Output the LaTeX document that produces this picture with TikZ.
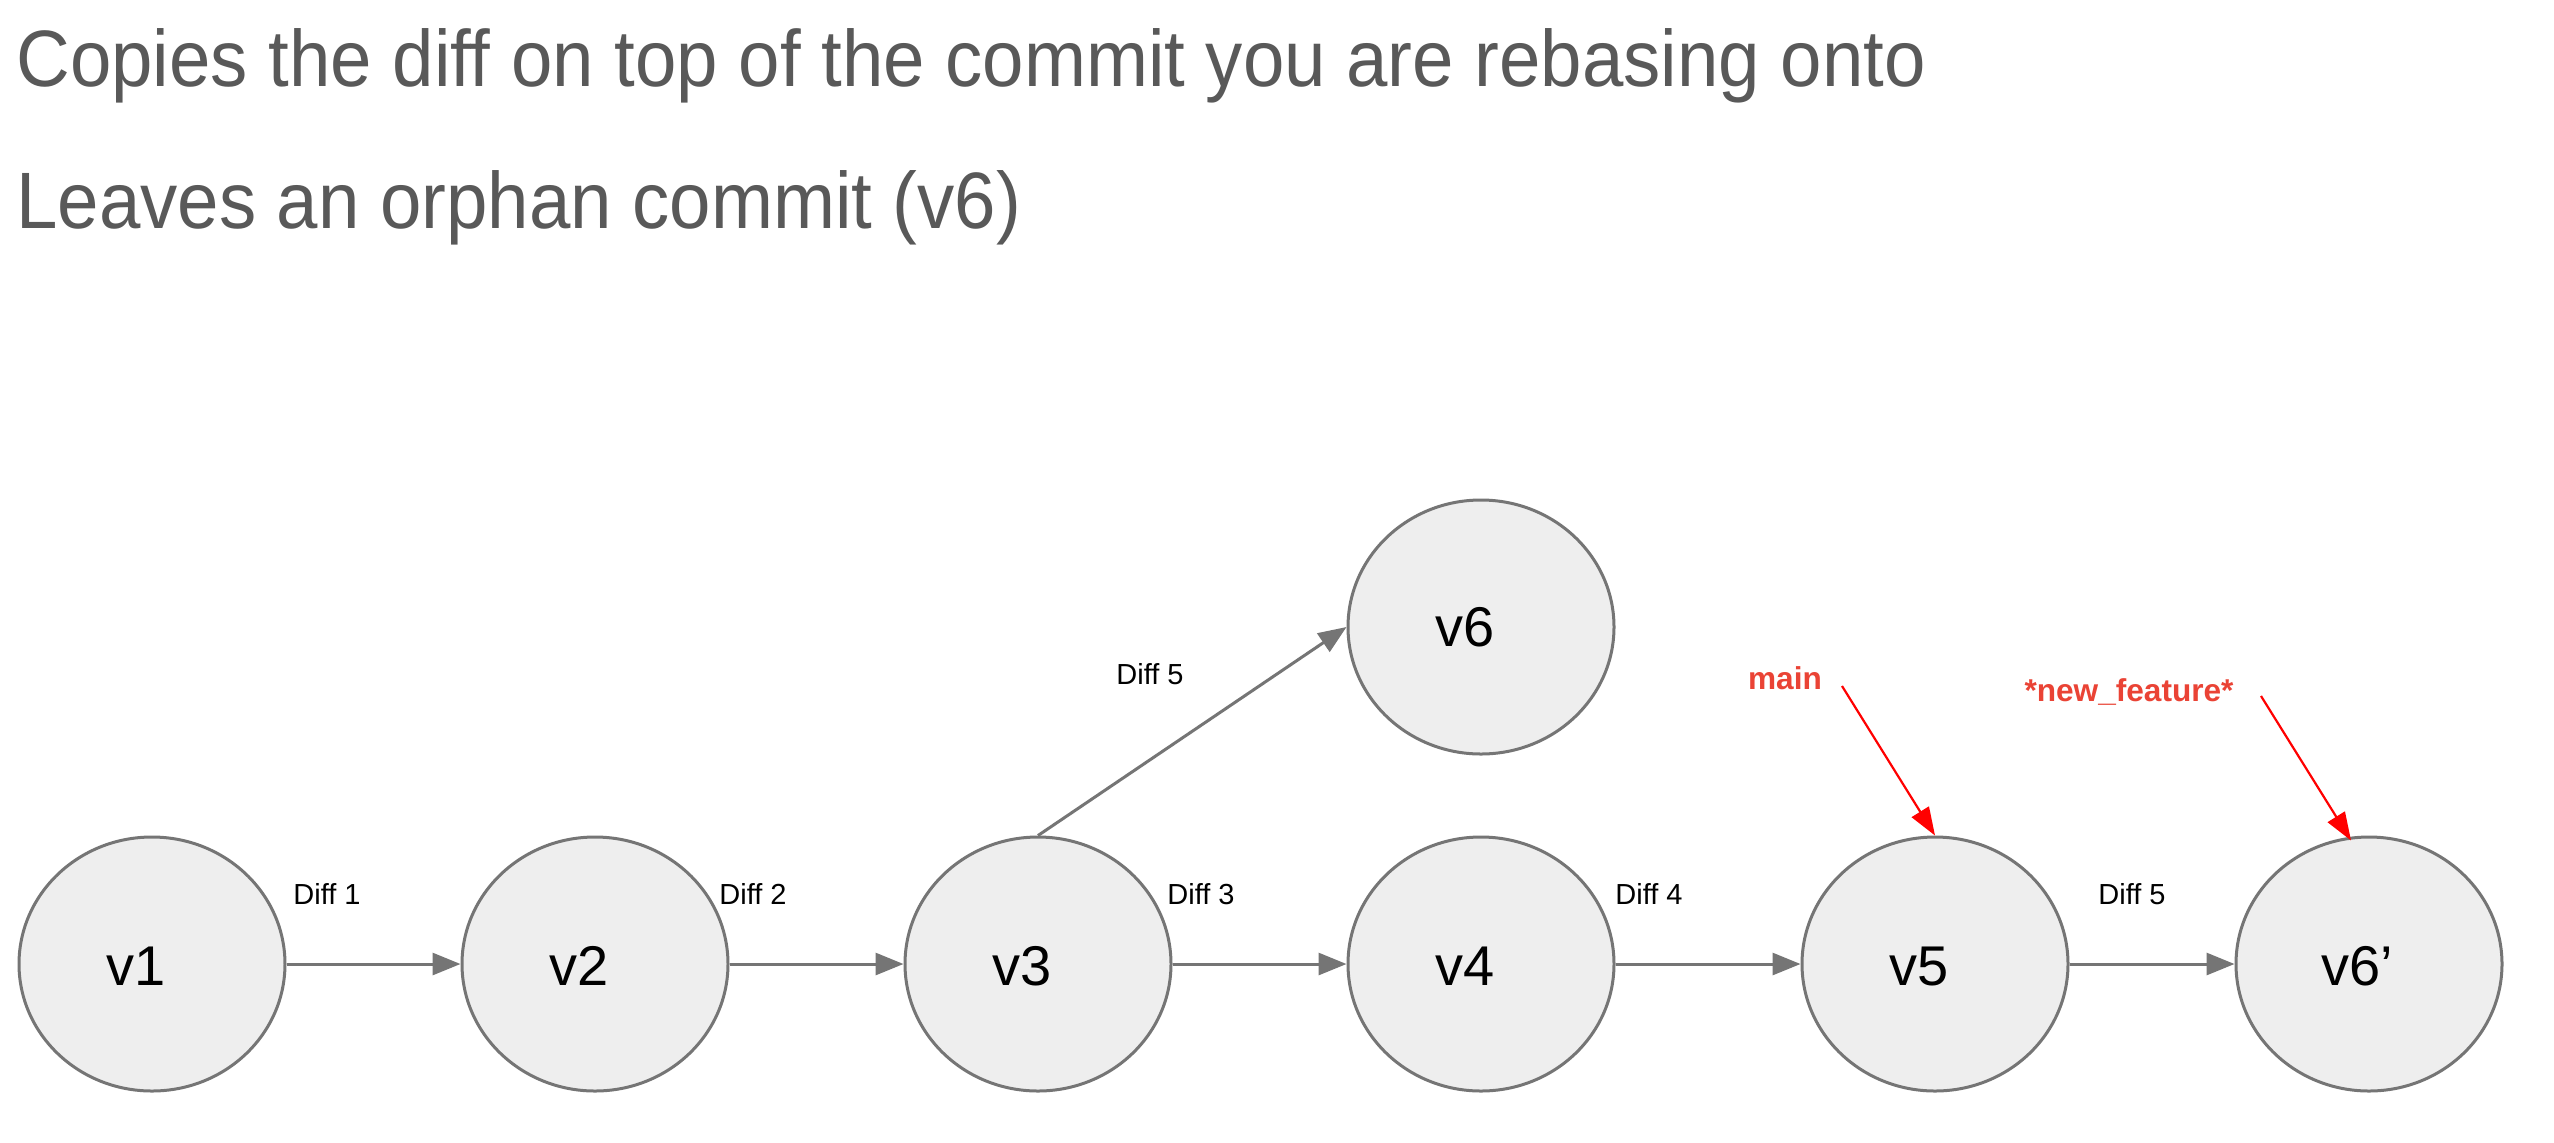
\documentclass[tikz,border=0pt]{standalone}
\usepackage{fontspec}
\setmainfont{Liberation Sans}
\newfontfamily\titlefont[FakeStretch=0.93]{Liberation Sans}
\usetikzlibrary{shapes.geometric,arrows.meta}
\definecolor{titlegray}{HTML}{595959}
\definecolor{nodefill}{HTML}{EEEEEE}
\definecolor{nodeline}{HTML}{757575}
\definecolor{labelred}{HTML}{EA4335}
\tikzset{
  commit/.style={ellipse,draw=nodeline,fill=nodefill,line width=1.5pt,minimum width=133pt,minimum height=127pt,inner sep=0pt},
  vlabel/.style={font=\fontsize{28}{30}\selectfont,text=black,inner sep=0pt},
  difflabel/.style={font=\fontsize{14.5}{16}\selectfont,text=black,inner sep=0pt},
  branchlabel/.style={font=\fontsize{15.8}{18}\selectfont\bfseries,text=labelred,inner sep=0pt},
  titletext/.style={font=\titlefont\fontsize{40}{44}\selectfont,text=titlegray,inner sep=0pt,anchor=base west},
  edge/.style={draw=nodeline,line width=1.5pt,-{Triangle[length=14pt,width=11pt]}},
  ptr/.style={draw=red,line width=1.1pt,-{Triangle[length=14pt,width=10pt]}}
}
\begin{document}
\begin{tikzpicture}[x=0.5pt,y=-0.5pt]
\useasboundingbox[fill=white] (0,0) rectangle (2554,1142);
\node[titletext] (t1) at (16,86) {Copies the diff on top of the commit you are rebasing onto};
\node[titletext] (t2) at (16,228) {Leaves an orphan commit (v6)};

\node[commit] (v1) at (152,964) {};
\node[commit] (v2) at (595,964) {};
\node[commit] (v3) at (1038,964) {};
\node[commit] (v4) at (1481,964) {};
\node[commit] (v5) at (1935,964) {};
\node[commit] (v6p) at (2369,964) {};
\node[commit] (v6) at (1481,627) {};

\node[vlabel] (l1) at ([xshift=-8pt,yshift=-1pt]v1.center) {v1};
\node[vlabel] (l2) at ([xshift=-8pt,yshift=-1pt]v2.center) {v2};
\node[vlabel] (l3) at ([xshift=-8pt,yshift=-1pt]v3.center) {v3};
\node[vlabel] (l4) at ([xshift=-8pt,yshift=-1pt]v4.center) {v4};
\node[vlabel] (l5) at ([xshift=-8pt,yshift=-1pt]v5.center) {v5};
\node[vlabel] (l6p) at ([xshift=-6pt,yshift=-1pt]v6p.center) {v6’};
\node[vlabel] (l6) at ([xshift=-8pt,yshift=0pt]v6.center) {v6};

\draw[edge] (v1.east) -- (v2.west);
\draw[edge] (v2.east) -- (v3.west);
\draw[edge] (v3.east) -- (v4.west);
\draw[edge] (v4.east) -- (v5.west);
\draw[edge] (v5.east) -- (v6p.west);
\draw[edge] (v3.north) -- (v6.west);

\node[difflabel] (d1) at (327,894) {Diff 1};
\node[difflabel] (d2) at (753,894) {Diff 2};
\node[difflabel] (d3) at (1201,894) {Diff 3};
\node[difflabel] (d4) at (1649,894) {Diff 4};
\node[difflabel] (d5) at (2132,894) {Diff 5};
\node[difflabel] (d5b) at (1150,674) {Diff 5};

\node[branchlabel] (main) at (1785,678) {main};
\node[branchlabel] (nf) at (2129,692) {*new\_feature*};
\coordinate (mainstart) at (1842,686);
\coordinate (nfstart) at (2261,696);
\coordinate (nfend) at ([xshift=-9pt,yshift=-2.5pt]v6p.north);
\draw[ptr] (mainstart) -- (v5.north);
\draw[ptr] (nfstart) -- (nfend);
\end{tikzpicture}
\end{document}
